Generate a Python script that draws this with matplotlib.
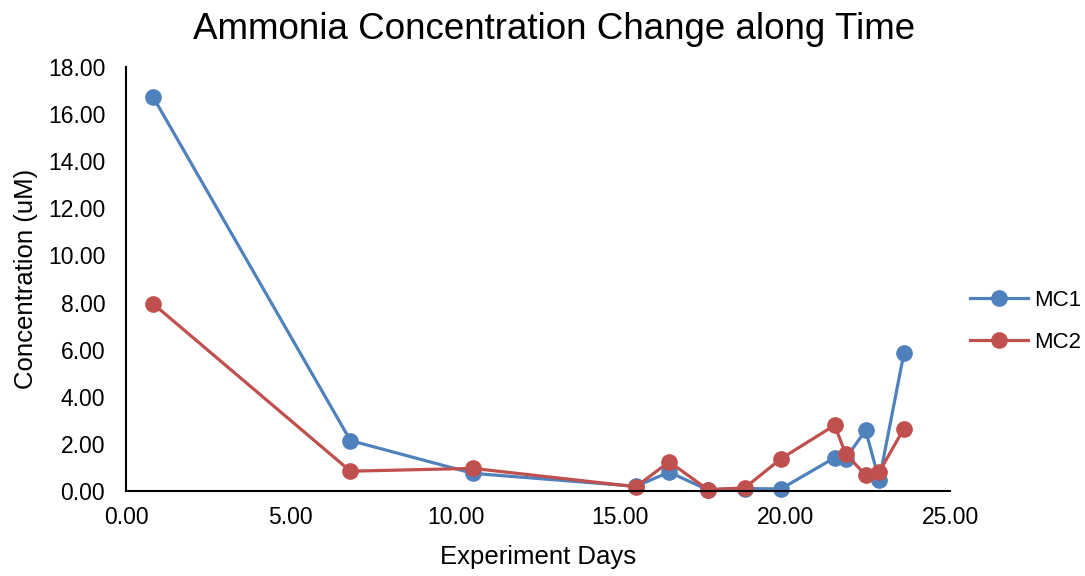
import matplotlib.pyplot as plt

plt.rcParams['font.family'] = ['Liberation Sans', 'DejaVu Sans']

# sampling days and ammonia readings (uM)
days = [0.83, 6.81, 10.52, 15.47, 16.48, 17.65, 18.77, 19.87, 21.50, 21.83, 22.44, 22.85, 23.60]
mc1 = [16.71, 2.14, 0.75, 0.20, 0.80, 0.05, 0.10, 0.09, 1.41, 1.37, 2.58, 0.45, 5.84]
mc2 = [7.94, 0.84, 0.96, 0.18, 1.24, 0.06, 0.13, 1.37, 2.79, 1.59, 0.67, 0.80, 2.65]

fig = plt.figure(figsize=(10.85, 5.76), dpi=100)
ax = fig.add_axes([0.1161, 0.1476, 0.7595, 0.7361])

ax.plot(days, mc1, color='#4F81BD', lw=2.3, marker='o', ms=11, label='MC1')
ax.plot(days, mc2, color='#C0504D', lw=2.3, marker='o', ms=11, label='MC2')

ax.set_xlim(0, 25)
ax.set_ylim(0, 18)
ax.set_xticks([0, 5, 10, 15, 20, 25])
ax.set_yticks(range(0, 19, 2))
ax.xaxis.set_major_formatter(lambda v, p: f'{v:.2f}')
ax.yaxis.set_major_formatter(lambda v, p: f'{v:.2f}')
ax.tick_params(length=0, labelsize=16.5)
ax.tick_params(axis='y', pad=15)
ax.tick_params(axis='x', pad=11)

for side in ['top', 'right']:
    ax.spines[side].set_visible(False)
for side in ['left', 'bottom']:
    ax.spines[side].set_linewidth(1.5)
    ax.spines[side].set_color('black')
for ln in ax.lines:
    ln.set_clip_on(False)

ax.set_title('Ammonia Concentration Change along Time', fontsize=26.5, pad=20, x=0.52)
ax.set_xlabel('Experiment Days', fontsize=18.5, labelpad=11)
ax.set_ylabel('Concentration (uM)', fontsize=18.5, labelpad=7)

ax.legend(loc='center left', bbox_to_anchor=(1.0, 0.40), frameon=False,
          fontsize=16, handlelength=2.6, labelspacing=0.95, handletextpad=0.3)

plt.savefig('out.png', dpi=100)
